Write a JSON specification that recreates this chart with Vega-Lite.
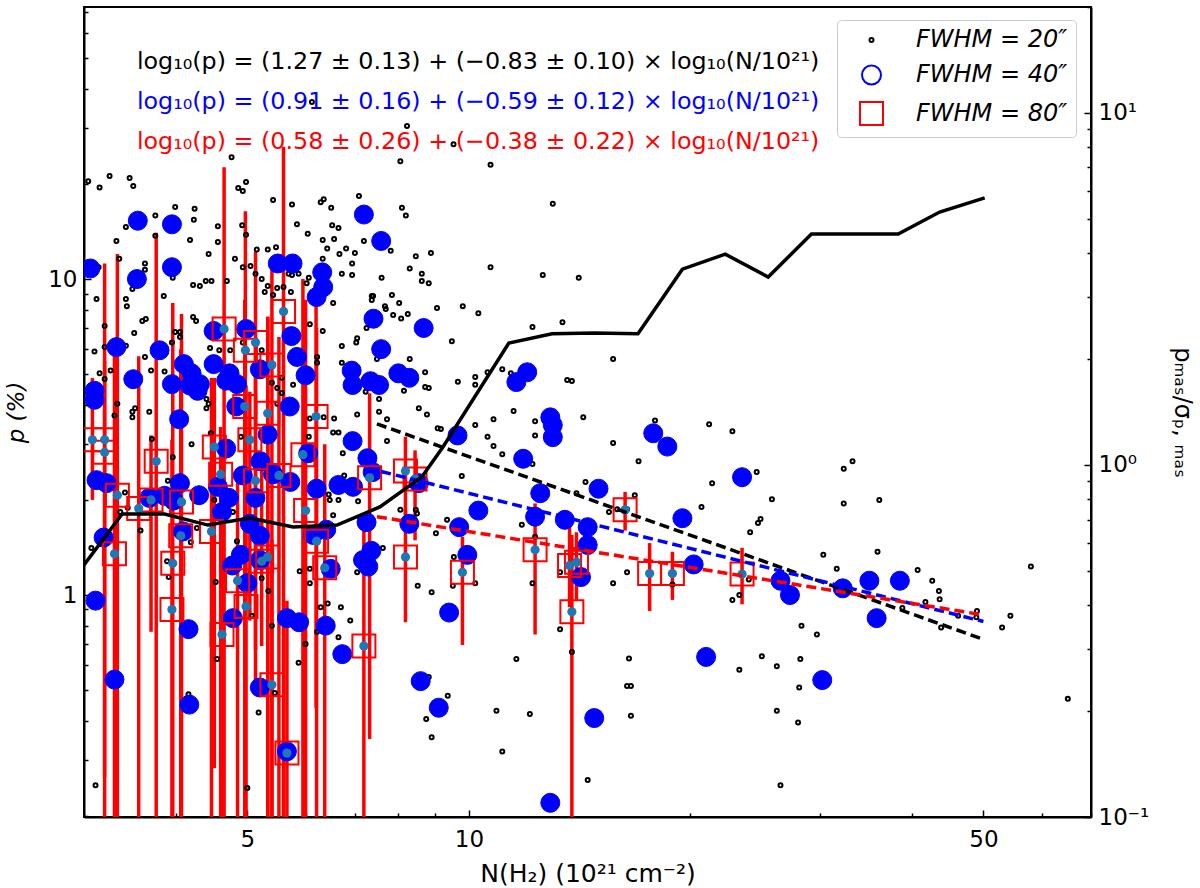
{"$schema":"https://vega.github.io/schema/vega-lite/v6.json","autosize":"none","padding":{"left":84,"top":7,"right":109,"bottom":71},"width":1007,"height":810,"background":"white",
"config":{"font":"DejaVu Sans","view":{"stroke":"black","strokeWidth":2},"axis":{"grid":false}},
"datasets":{
"black":[{"n":6.12,"p":36.3},{"n":8.24,"p":30.5},{"n":9.53,"p":26.7},{"n":4.76,"p":24.3},{"n":8.07,"p":23.6},{"n":3.04,"p":20.4},{"n":3.15,"p":19.5},{"n":3.25,"p":21.2},{"n":3.46,"p":20.9},{"n":3.5,"p":19.7},{"n":4.86,"p":19.4},{"n":4.93,"p":19},{"n":4.98,"p":20.3},{"n":5.42,"p":17.8},{"n":5.75,"p":17.2},{"n":7.09,"p":18.3},{"n":8.11,"p":16.8},{"n":8.21,"p":15.9},{"n":6.29,"p":17.5},{"n":6.35,"p":17.9},{"n":6.5,"p":16.8},{"n":3.99,"p":16.9},{"n":4.24,"p":16.7},{"n":4.23,"p":15.4},{"n":3.75,"p":15.9},{"n":4.56,"p":14.7},{"n":4.92,"p":14.8},{"n":5.84,"p":14.9},{"n":6.52,"p":14.8},{"n":6.65,"p":14.5},{"n":6.04,"p":13.9},{"n":3.42,"p":14.6},{"n":3.32,"p":13.2},{"n":3.75,"p":13.7},{"n":4.18,"p":13.3},{"n":4.56,"p":13.1},{"n":4.98,"p":13.8},{"n":6.33,"p":13.3},{"n":6.56,"p":13.4},{"n":7.2,"p":13.2},{"n":6.42,"p":12.5},{"n":6.81,"p":12.5},{"n":7,"p":12.1},{"n":6.67,"p":12},{"n":7.83,"p":12.3},{"n":8.47,"p":11.8},{"n":8.88,"p":12.1},{"n":5.15,"p":12.4},{"n":5.33,"p":12.4},{"n":5.47,"p":12.6},{"n":4.43,"p":12},{"n":4.81,"p":11.6},{"n":3.35,"p":11.6},{"n":3.63,"p":11.2},{"n":3.63,"p":10.7},{"n":3.14,"p":10.9},{"n":4.93,"p":10.9},{"n":5.05,"p":11},{"n":6.33,"p":11.6},{"n":6.94,"p":11.2},{"n":8.31,"p":10.8},{"n":5.13,"p":10.4},{"n":5.23,"p":10},{"n":5.69,"p":10.4},{"n":5.75,"p":10.3},{"n":5.87,"p":10.4},{"n":6.06,"p":10.1},{"n":6.02,"p":9.7},{"n":6.72,"p":10.4},{"n":6.94,"p":10.3},{"n":7.61,"p":10.1},{"n":8.63,"p":10.4},{"n":8.63,"p":9.85},{"n":8.82,"p":9.7},{"n":4.22,"p":9.57},{"n":4.31,"p":9.5},{"n":4.39,"p":9.85},{"n":4.47,"p":9.85},{"n":4.69,"p":9.85},{"n":3.49,"p":9.3},{"n":3.96,"p":10.1},{"n":5.33,"p":9.5},{"n":5.28,"p":9.1},{"n":5.49,"p":9.36},{"n":5.6,"p":9.43},{"n":5.73,"p":9.1},{"n":5.42,"p":8.9},{"n":3.12,"p":8.64},{"n":3.42,"p":8.64},{"n":3.85,"p":8.83},{"n":7.41,"p":8.83},{"n":7.86,"p":8.9},{"n":3.43,"p":8.2},{"n":3.6,"p":7.36},{"n":3.64,"p":7.47},{"n":3.51,"p":6.75},{"n":4.22,"p":7.58},{"n":4.26,"p":7.36},{"n":3.99,"p":6.8},{"n":4.05,"p":6.8},{"n":4.05,"p":6.55},{"n":3.95,"p":6.3},{"n":3.2,"p":7.1},{"n":3.2,"p":6.1},{"n":3.1,"p":5.9},{"n":3.42,"p":6.15},{"n":3.63,"p":5.67},{"n":3.7,"p":5.14},{"n":3.86,"p":5.1},{"n":3.26,"p":5.14},{"n":3.15,"p":5.03},{"n":3.2,"p":4.83},{"n":3.33,"p":4.03},{"n":3.52,"p":3.9},{"n":3.49,"p":3.8},{"n":3.49,"p":3.65},{"n":3.68,"p":3.8},{"n":3.3,"p":3.7},{"n":4.4,"p":4.17},{"n":4.43,"p":4.03},{"n":4.4,"p":3.9},{"n":4.45,"p":6.05},{"n":4.58,"p":5.95},{"n":4.93,"p":6.3},{"n":5.23,"p":5.95},{"n":4.74,"p":5.95},{"n":5.4,"p":4.7},{"n":5.49,"p":4.52},{"n":5.57,"p":4.36},{"n":5.57,"p":4.87},{"n":5.77,"p":4.63},{"n":5.49,"p":4.03},{"n":5.64,"p":3.9},{"n":6.08,"p":7.2},{"n":6.33,"p":6.85},{"n":6.22,"p":5.67},{"n":6.22,"p":5.43},{"n":6.54,"p":8.4},{"n":7.38,"p":8.83},{"n":7.38,"p":8.58},{"n":7.69,"p":8.2},{"n":7.71,"p":8.04},{"n":8.04,"p":8.4},{"n":7.89,"p":7.7},{"n":8.09,"p":7.5},{"n":8.26,"p":7.75},{"n":7.26,"p":7},{"n":6.72,"p":6.14},{"n":7.05,"p":6.5},{"n":7.03,"p":6.3},{"n":7.5,"p":5.58},{"n":8.31,"p":5.58},{"n":6.72,"p":5.43},{"n":7.24,"p":4.4},{"n":7.55,"p":4.17},{"n":8.16,"p":4.43},{"n":7.55,"p":3.8},{"n":7.74,"p":3.6},{"n":7.05,"p":3.73},{"n":6.56,"p":3.62},{"n":6.08,"p":3.62},{"n":6.35,"p":3.65},{"n":6.54,"p":3.27},{"n":6.65,"p":3.27},{"n":6.06,"p":3.17},{"n":7.74,"p":3.07},{"n":4.46,"p":3.25},{"n":4.9,"p":3.17},{"n":3.71,"p":3.12},{"n":4.2,"p":3},{"n":3.96,"p":2.73},{"n":6.74,"p":2.81},{"n":6.77,"p":2.39},{"n":6.45,"p":2.08},{"n":6.65,"p":2},{"n":6.47,"p":2},{"n":7.07,"p":1.98},{"n":6.54,"p":1.79},{"n":8.07,"p":1.86},{"n":3.41,"p":2.11},{"n":3.9,"p":2.3},{"n":4.51,"p":2},{"n":4.78,"p":1.83},{"n":3.44,"p":1.89},{"n":3.36,"p":1.83},{"n":3.58,"p":1.6},{"n":4.27,"p":1.63},{"n":3.07,"p":1.41},{"n":4.19,"p":1.47},{"n":4.84,"p":1.48},{"n":7.64,"p":1.41},{"n":3.89,"p":1.28},{"n":3.91,"p":1.14},{"n":4.53,"p":1.1},{"n":5.23,"p":1.13},{"n":5.34,"p":1.03},{"n":5.89,"p":1.19},{"n":6.08,"p":1.21},{"n":6.08,"p":1.09},{"n":7.05,"p":1.18},{"n":6.29,"p":0.915},{"n":6.43,"p":0.94},{"n":6.7,"p":0.915},{"n":6.9,"p":0.83},{"n":5.4,"p":0.8},{"n":5.07,"p":0.86},{"n":6.22,"p":0.765},{"n":6.65,"p":0.735},{"n":6,"p":0.7},{"n":4.55,"p":0.627},{"n":5.87,"p":0.61},{"n":4.16,"p":0.485},{"n":5.45,"p":0.49},{"n":5.18,"p":0.425},{"n":3.11,"p":0.25},{"n":5,"p":0.245},{"n":8.52,"p":1.07},{"n":10.7,"p":23},{"n":13,"p":17.3},{"n":10.7,"p":10.9},{"n":12.6,"p":10.3},{"n":14.1,"p":10.1},{"n":9.05,"p":8.1},{"n":9.81,"p":8.2},{"n":10.3,"p":7.8},{"n":12.2,"p":7.05},{"n":13.4,"p":7.3},{"n":9.48,"p":6.36},{"n":15.7,"p":5.58},{"n":11.1,"p":5.18},{"n":10.6,"p":5.07},{"n":11.4,"p":5.03},{"n":8.72,"p":5.07},{"n":10.2,"p":4.9},{"n":10.2,"p":4.63},{"n":9.66,"p":4.73},{"n":8.72,"p":4.55},{"n":8.82,"p":4.52},{"n":13.6,"p":4.79},{"n":13.8,"p":4.76},{"n":8.55,"p":3.9},{"n":8.77,"p":3.73},{"n":11.5,"p":3.82},{"n":10.8,"p":3.6},{"n":14.3,"p":3.65},{"n":12.3,"p":3.55},{"n":10.2,"p":3.45},{"n":9.07,"p":3.37},{"n":9.16,"p":3.35},{"n":10.6,"p":3.17},{"n":12.3,"p":3.2},{"n":17.9,"p":3.57},{"n":21.2,"p":3.47},{"n":22.8,"p":3.3},{"n":10.8,"p":2.96},{"n":15.7,"p":3.03},{"n":11.1,"p":2.79},{"n":17,"p":2.65},{"n":12.2,"p":2.6},{"n":9.78,"p":2.38},{"n":14.4,"p":2.28},{"n":21.4,"p":2.26},{"n":14,"p":2.1},{"n":16.8,"p":2.07},{"n":20.7,"p":1.9},{"n":8.47,"p":1.86},{"n":8.5,"p":1.81},{"n":15.5,"p":1.83},{"n":15.9,"p":1.87},{"n":16.4,"p":1.87},{"n":9.34,"p":1.73},{"n":11.8,"p":1.67},{"n":9.02,"p":1.57},{"n":12.3,"p":1.53},{"n":9.54,"p":1.32},{"n":10.2,"p":1.09},{"n":9.51,"p":1.07},{"n":8.9,"p":1.02},{"n":12.2,"p":1.09},{"n":13.3,"p":1.18},{"n":16.4,"p":1.18},{"n":15.7,"p":1.09},{"n":18.9,"p":1.08},{"n":23.3,"p":1},{"n":22.8,"p":0.965},{"n":13.3,"p":0.78},{"n":13.8,"p":0.66},{"n":11.6,"p":0.627},{"n":16.5,"p":0.63},{"n":16.4,"p":0.515},{"n":16.6,"p":0.515},{"n":8.82,"p":0.55},{"n":9.36,"p":0.48},{"n":23.3,"p":0.58},{"n":10.9,"p":0.43},{"n":12.1,"p":0.42},{"n":16.6,"p":0.415},{"n":8.75,"p":0.405},{"n":8.9,"p":0.355},{"n":11.1,"p":0.32},{"n":14.5,"p":0.26},{"n":24.6,"p":2.45},{"n":25.8,"p":2.01},{"n":24.9,"p":1.74},{"n":24.7,"p":1.69},{"n":24.1,"p":1.58},{"n":32.3,"p":2.51},{"n":33.2,"p":2.65},{"n":32.3,"p":1.95},{"n":36.1,"p":2},{"n":30.3,"p":1.34},{"n":35.9,"p":1.37},{"n":31.6,"p":1.21},{"n":40.7,"p":1.2},{"n":42.6,"p":1.11},{"n":43.5,"p":1.03},{"n":43.6,"p":0.97},{"n":41.7,"p":0.95},{"n":38.8,"p":0.91},{"n":49,"p":0.89},{"n":48.9,"p":0.85},{"n":43.8,"p":0.79},{"n":53,"p":0.79},{"n":54.4,"p":0.86},{"n":58,"p":1.23},{"n":65.1,"p":0.47},{"n":24,"p":1.12},{"n":28.3,"p":0.8},{"n":29.7,"p":0.75},{"n":25,"p":0.64},{"n":26.2,"p":0.595},{"n":28.2,"p":0.627},{"n":28.1,"p":0.51},{"n":26.2,"p":0.43},{"n":28,"p":0.395},{"n":26.5,"p":0.25},{"n":46.2,"p":0.86}],
"blue":[{"n":3.06,"p":10.8},{"n":3.55,"p":15.3},{"n":3.95,"p":14.9},{"n":3.95,"p":10.9},{"n":3.54,"p":10},{"n":5.5,"p":11.2},{"n":5.76,"p":11.2},{"n":7.2,"p":16},{"n":7.6,"p":13.2},{"n":6.32,"p":10.5},{"n":6.34,"p":9.43},{"n":6.21,"p":8.77},{"n":3.32,"p":6.09},{"n":3.8,"p":5.95},{"n":3.5,"p":4.82},{"n":3.1,"p":4.43},{"n":3.1,"p":4.15},{"n":4.04,"p":3.6},{"n":4.1,"p":5.38},{"n":4.2,"p":5.03},{"n":3.95,"p":4.65},{"n":4.18,"p":4.6},{"n":4.31,"p":4.65},{"n":4.28,"p":4.43},{"n":4.5,"p":6.85},{"n":4.98,"p":6.95},{"n":4.5,"p":5.38},{"n":4.73,"p":5.03},{"n":4.68,"p":4.77},{"n":4.84,"p":4.65},{"n":5.2,"p":5.18},{"n":5.74,"p":6.6},{"n":5.84,"p":5.67},{"n":6,"p":4.96},{"n":7.42,"p":7.49},{"n":7.6,"p":6},{"n":6.93,"p":5.13},{"n":6.95,"p":4.62},{"n":7.35,"p":4.75},{"n":7.55,"p":4.62},{"n":8.02,"p":5.03},{"n":8.3,"p":4.87},{"n":5.71,"p":3.95},{"n":4.83,"p":3.95},{"n":6.95,"p":3.07},{"n":5.33,"p":3.22},{"n":4.68,"p":2.91},{"n":6.05,"p":2.81},{"n":5.21,"p":2.65},{"n":7.28,"p":2.71},{"n":7.4,"p":2.45},{"n":3.12,"p":2.31},{"n":3.22,"p":2.26},{"n":4.05,"p":2.26},{"n":4.93,"p":2.39},{"n":5.42,"p":2.41},{"n":5.72,"p":2.28},{"n":6.21,"p":2.17},{"n":6.65,"p":2.23},{"n":6.96,"p":2.2},{"n":4.56,"p":2.2},{"n":4.3,"p":2.07},{"n":3.68,"p":2.03},{"n":3.86,"p":2.06},{"n":3.97,"p":1.99},{"n":5.13,"p":2.03},{"n":4.72,"p":2.03},{"n":4.62,"p":1.83},{"n":5.04,"p":1.68},{"n":5.2,"p":1.54},{"n":4.09,"p":1.59},{"n":3.19,"p":1.52},{"n":7.26,"p":1.7},{"n":8.3,"p":1.68},{"n":6.14,"p":1.55},{"n":6.4,"p":1.61},{"n":4.9,"p":1.34},{"n":7.37,"p":1.38},{"n":7.18,"p":1.29},{"n":3.11,"p":0.96},{"n":3.3,"p":0.54},{"n":4.16,"p":0.78},{"n":4.17,"p":0.45},{"n":4.78,"p":0.845},{"n":4.77,"p":1.24},{"n":5,"p":1.09},{"n":5.2,"p":1.29},{"n":5.66,"p":0.845},{"n":5.88,"p":0.82},{"n":6.39,"p":0.8},{"n":6.73,"p":0.65},{"n":6.49,"p":1.21},{"n":5.2,"p":0.51},{"n":5.66,"p":0.32},{"n":7.3,"p":1.23},{"n":8.68,"p":7},{"n":12,"p":5.07},{"n":11.6,"p":4.72},{"n":12.9,"p":3.65},{"n":13,"p":3.45},{"n":13,"p":3.16},{"n":9.65,"p":3.2},{"n":17.8,"p":3.25},{"n":18.6,"p":2.95},{"n":11.85,"p":2.7},{"n":12.5,"p":2.1},{"n":15,"p":2.17},{"n":10.3,"p":1.85},{"n":12.3,"p":1.77},{"n":13.5,"p":1.73},{"n":14.5,"p":1.64},{"n":14.5,"p":1.44},{"n":9.7,"p":1.64},{"n":9.95,"p":1.34},{"n":14.2,"p":1.14},{"n":9.4,"p":0.88},{"n":9.1,"p":0.44},{"n":8.6,"p":0.534},{"n":14.8,"p":0.408},{"n":12.9,"p":0.22},{"n":19.5,"p":1.75},{"n":23.5,"p":2.36},{"n":20.2,"p":1.25},{"n":21,"p":0.637},{"n":26.5,"p":1.11},{"n":27.3,"p":1},{"n":32.2,"p":1.05},{"n":35,"p":1.11},{"n":38.5,"p":1.11},{"n":35.8,"p":0.845},{"n":30.2,"p":0.538},{"n":8.55,"p":2.26}],
"red":[{"n":4.65,"p":6.95,"hi":22.6,"lo":0.1},{"n":5.6,"p":7.9,"hi":26.2,"lo":0.1},{"n":5.13,"p":6.3,"hi":12.2,"lo":0.5},{"n":4.97,"p":5.95,"hi":16.4,"lo":0.1},{"n":5.4,"p":5.35,"hi":10.9,"lo":0.1},{"n":4.96,"p":3.95,"hi":8.6,"lo":0.1},{"n":5.33,"p":3.76,"hi":7.6,"lo":0.1},{"n":6.2,"p":3.67,"hi":8.6,"lo":0.44},{"n":3.08,"p":3.1,"hi":4.86,"lo":2},{"n":3.2,"p":3.1,"hi":11.2,"lo":0.265},{"n":3.2,"p":2.83,"hi":5.5,"lo":0.1},{"n":4.51,"p":2.94,"hi":4.86,"lo":0.283},{"n":5.04,"p":3.1,"hi":4.4,"lo":0.83},{"n":5.95,"p":2.78,"hi":10,"lo":0.1},{"n":3.76,"p":2.65,"hi":14,"lo":0.1},{"n":4.6,"p":2.41,"hi":3.4,"lo":0.1},{"n":5.13,"p":2.3,"hi":6.4,"lo":0.67},{"n":5.52,"p":2.39,"hi":6.55,"lo":0.1},{"n":3.33,"p":2.07,"hi":12,"lo":0.1},{"n":3.7,"p":2,"hi":3.2,"lo":0.765},{"n":4.07,"p":1.97,"hi":7.75,"lo":0.1},{"n":3.56,"p":1.88,"hi":5.7,"lo":0.1},{"n":6,"p":1.85,"hi":8.6,"lo":0.1},{"n":7.33,"p":2.35,"hi":4.35,"lo":0.35},{"n":8.2,"p":2.47,"hi":3.17,"lo":1.79},{"n":8.45,"p":2.33,"hi":2.87,"lo":1.49},{"n":4.47,"p":1.59,"hi":4.86,"lo":0.1},{"n":4.06,"p":1.54,"hi":6,"lo":0.1},{"n":6.21,"p":1.48,"hi":7,"lo":0.1},{"n":3.3,"p":1.35,"hi":6.4,"lo":0.1},{"n":3.96,"p":1.26,"hi":8.4,"lo":0.1},{"n":3.95,"p":0.9,"hi":3.1,"lo":0.1},{"n":4.62,"p":0.75,"hi":3.1,"lo":0.1},{"n":4.85,"p":1.11,"hi":2.5,"lo":0.1},{"n":4.98,"p":0.92,"hi":4.6,"lo":0.1},{"n":5.23,"p":1.28,"hi":2.5,"lo":0.69},{"n":5.33,"p":1.32,"hi":7.6,"lo":0.1},{"n":6.37,"p":1.22,"hi":3,"lo":0.1},{"n":8.2,"p":1.32,"hi":1.86,"lo":0.82},{"n":7.2,"p":0.69,"hi":1.69,"lo":0.1},{"n":5.4,"p":0.52,"hi":1.5,"lo":0.1},{"n":5.66,"p":0.316,"hi":0.96,"lo":0.1},{"n":9.8,"p":1.18,"hi":1.53,"lo":0.695},{"n":12.3,"p":1.39,"hi":1.95,"lo":0.75},{"n":13.7,"p":1.24,"hi":1.83,"lo":0.915},{"n":14,"p":1.27,"hi":1.58,"lo":0.965},{"n":13.8,"p":0.885,"hi":1.55,"lo":0.1},{"n":16.3,"p":1.86,"hi":2.12,"lo":1.6},{"n":17.6,"p":1.17,"hi":1.46,"lo":0.89},{"n":18.9,"p":1.17,"hi":1.37,"lo":0.965},{"n":23.5,"p":1.165,"hi":1.41,"lo":0.935}],
"snr":[{"n":3,"s":0.52},{"n":3.38,"s":0.726},{"n":3.86,"s":0.726},{"n":4.42,"s":0.675},{"n":5.04,"s":0.707},{"n":5.77,"s":0.667},{"n":6.62,"s":0.675},{"n":7.57,"s":0.76},{"n":8.63,"s":0.925},{"n":9.22,"s":1.125},{"n":11.33,"s":2.22},{"n":12.97,"s":2.36},{"n":14.8,"s":2.37},{"n":16.97,"s":2.36},{"n":19.5,"s":3.6},{"n":22.3,"s":3.97},{"n":25.5,"s":3.42},{"n":29.2,"s":4.53},{"n":38.3,"s":4.53},{"n":43.6,"s":5.23},{"n":50.2,"s":5.74}],
"fit20":[{"n":7.5,"p":3.48},{"n":50,"p":0.724}],
"fit40":[{"n":7.6,"p":2.46},{"n":50,"p":0.825}],
"fit80":[{"n":7.5,"p":1.77},{"n":50,"p":0.865}]
},
"layer":[
{"layer":[
{"data":{"name":"red"},"mark":{"type":"rule","color":"red","strokeWidth":3.5,"clip":true},
"encoding":{"x":{"field":"n","type":"quantitative","scale":{"type":"log","domain":[3,70],"nice":false},
"axis":{"title":"N(H₂) (10²¹ cm⁻²)","titleFontSize":25,"titleFontWeight":"normal","titleColor":"black","labelFontSize":23,"labelColor":"black","values":[3,4,5,6,7,8,9,10,20,30,40,50,60,70],"labelExpr":"datum.value==5||datum.value==10||datum.value==50?datum.value:''","labelOverlap":false,"labelFlush":false,"domainColor":"black","domainWidth":2,"tickColor":"black","tickWidth":1.5,"tickSize":{"condition":{"test":"datum.value==5||datum.value==10||datum.value==50","value":-7},"value":-4},"labelPadding":18,"titlePadding":7}},
"y":{"field":"lo","type":"quantitative","scale":{"type":"log","domain":[0.1984,72.6],"nice":false},
"axis":{"title":"p (%)","titleFontSize":23,"titleFontWeight":"normal","titleFontStyle":"italic","titleColor":"black","labelFontSize":23,"labelColor":"black","values":[0.2,0.3,0.4,0.5,0.6,0.7,0.8,0.9,1,2,3,4,5,6,7,8,9,10,20,30,40,50,60,70],"labelExpr":"datum.value==1||datum.value==10?datum.value:''","labelOverlap":false,"labelFlush":false,"domainColor":"black","domainWidth":2,"tickColor":"black","tickWidth":1.5,"tickSize":{"condition":{"test":"datum.value==1||datum.value==10","value":-7},"value":-4},"labelPadding":14,"titlePadding":19}},
"y2":{"field":"hi"}}},
{"data":{"name":"black"},"mark":{"type":"point","filled":false,"strokeWidth":2,"opacity":1,"clip":true},
"encoding":{"x":{"field":"n","type":"quantitative","scale":{"type":"log","domain":[3,70],"nice":false}},"y":{"field":"p","type":"quantitative","scale":{"type":"log","domain":[0.1984,72.6],"nice":false}},
"color":{"datum":"FWHM = 20″","type":"nominal","scale":{"domain":["FWHM = 20″","FWHM = 40″","FWHM = 80″"],"range":["black","blue","red"]},"legend":{"orient":"none","legendX":753,"legendY":13,"title":null,"fillColor":"white","strokeColor":"#cccccc","cornerRadius":4,"padding":8,"labelFontSize":24,"labelFontStyle":"italic","labelColor":"black","symbolStrokeWidth":2,"rowPadding":9,"symbolOffset":14,"labelOffset":32}},
"shape":{"datum":"FWHM = 20″","type":"nominal","scale":{"domain":["FWHM = 20″","FWHM = 40″","FWHM = 80″"],"range":["circle","circle","square"]}},
"size":{"datum":"FWHM = 20″","type":"nominal","scale":{"type":"ordinal","domain":["FWHM = 20″","FWHM = 40″","FWHM = 80″"],"range":[16,361,529]}}}},
{"data":{"name":"blue"},"mark":{"type":"point","filled":false,"fill":"blue","strokeWidth":1,"opacity":1,"clip":true},
"encoding":{"x":{"field":"n","type":"quantitative","scale":{"type":"log","domain":[3,70],"nice":false}},"y":{"field":"p","type":"quantitative","scale":{"type":"log","domain":[0.1984,72.6],"nice":false}},
"color":{"datum":"FWHM = 40″","type":"nominal"},"shape":{"datum":"FWHM = 40″","type":"nominal"},"size":{"datum":"FWHM = 40″","type":"nominal","scale":{"type":"ordinal","domain":["FWHM = 20″","FWHM = 40″","FWHM = 80″"],"range":[16,361,529]}}}},
{"data":{"name":"red"},"mark":{"type":"point","filled":false,"strokeWidth":2,"opacity":1,"clip":true},
"encoding":{"x":{"field":"n","type":"quantitative","scale":{"type":"log","domain":[3,70],"nice":false}},"y":{"field":"p","type":"quantitative","scale":{"type":"log","domain":[0.1984,72.6],"nice":false}},
"color":{"datum":"FWHM = 80″","type":"nominal"},"shape":{"datum":"FWHM = 80″","type":"nominal"},"size":{"datum":"FWHM = 80″","type":"nominal","scale":{"type":"ordinal","domain":["FWHM = 20″","FWHM = 40″","FWHM = 80″"],"range":[16,361,529]}}}},
{"data":{"name":"red"},"mark":{"type":"circle","color":"#1f77b4","opacity":1,"size":85,"clip":true},
"encoding":{"x":{"field":"n","type":"quantitative","scale":{"type":"log","domain":[3,70],"nice":false}},"y":{"field":"p","type":"quantitative","scale":{"type":"log","domain":[0.1984,72.6],"nice":false}}}},
{"data":{"name":"fit20"},"mark":{"type":"line","color":"black","strokeWidth":3.5,"strokeDash":[10,5]},
"encoding":{"x":{"field":"n","type":"quantitative","scale":{"type":"log","domain":[3,70],"nice":false}},"y":{"field":"p","type":"quantitative","scale":{"type":"log","domain":[0.1984,72.6],"nice":false}}}},
{"data":{"name":"fit40"},"mark":{"type":"line","color":"blue","strokeWidth":3.5,"strokeDash":[10,5]},
"encoding":{"x":{"field":"n","type":"quantitative","scale":{"type":"log","domain":[3,70],"nice":false}},"y":{"field":"p","type":"quantitative","scale":{"type":"log","domain":[0.1984,72.6],"nice":false}}}},
{"data":{"name":"fit80"},"mark":{"type":"line","color":"red","strokeWidth":3.5,"strokeDash":[10,5]},
"encoding":{"x":{"field":"n","type":"quantitative","scale":{"type":"log","domain":[3,70],"nice":false}},"y":{"field":"p","type":"quantitative","scale":{"type":"log","domain":[0.1984,72.6],"nice":false}}}},
{"data":{"values":[{"t":"log₁₀(p) = (1.27 ± 0.13) + (−0.83 ± 0.10) × log₁₀(N/10²¹)"}]},"mark":{"type":"text","align":"left","baseline":"middle","fontSize":23.8,"color":"black"},
"encoding":{"x":{"datum":3.54,"type":"quantitative","scale":{"type":"log","domain":[3,70],"nice":false}},"y":{"datum":48.6,"type":"quantitative","scale":{"type":"log","domain":[0.1984,72.6],"nice":false}},"text":{"field":"t"}}},
{"data":{"values":[{"t":"log₁₀(p) = (0.91 ± 0.16) + (−0.59 ± 0.12) × log₁₀(N/10²¹)"}]},"mark":{"type":"text","align":"left","baseline":"middle","fontSize":23.8,"color":"blue"},
"encoding":{"x":{"datum":3.54,"type":"quantitative","scale":{"type":"log","domain":[3,70],"nice":false}},"y":{"datum":36.3,"type":"quantitative","scale":{"type":"log","domain":[0.1984,72.6],"nice":false}},"text":{"field":"t"}}},
{"data":{"values":[{"t":"log₁₀(p) = (0.58 ± 0.26) + (−0.38 ± 0.22) × log₁₀(N/10²¹)"}]},"mark":{"type":"text","align":"left","baseline":"middle","fontSize":23.8,"color":"red"},
"encoding":{"x":{"datum":3.54,"type":"quantitative","scale":{"type":"log","domain":[3,70],"nice":false}},"y":{"datum":27.1,"type":"quantitative","scale":{"type":"log","domain":[0.1984,72.6],"nice":false}},"text":{"field":"t"}}}
]},
{"data":{"name":"snr"},"mark":{"type":"line","color":"black","strokeWidth":3.5,"clip":true},
"encoding":{"x":{"field":"n","type":"quantitative","scale":{"type":"log","domain":[3,70],"nice":false}},
"y":{"field":"s","type":"quantitative","scale":{"type":"log","domain":[0.1,20],"nice":false},
"axis":{"orient":"right","title":"pₘₐₛ/σₚ, ₘₐₛ","titleFontSize":24,"titleFontWeight":"normal","titleColor":"black","labelFontSize":23,"labelColor":"black","values":[0.1,0.2,0.3,0.4,0.5,0.6,0.7,0.8,0.9,1,2,3,4,5,6,7,8,9,10,20],"labelExpr":"datum.value==0.1?'10⁻¹':datum.value==1?'10⁰':datum.value==10?'10¹':''","labelOverlap":false,"labelFlush":false,"domainColor":"black","domainWidth":2,"tickColor":"black","tickWidth":1.5,"tickSize":{"condition":{"test":"datum.value==0.1||datum.value==1||datum.value==10","value":-7},"value":-4},"labelPadding":14,"titlePadding":21}}}}
],
"resolve":{"scale":{"y":"independent"}}}
